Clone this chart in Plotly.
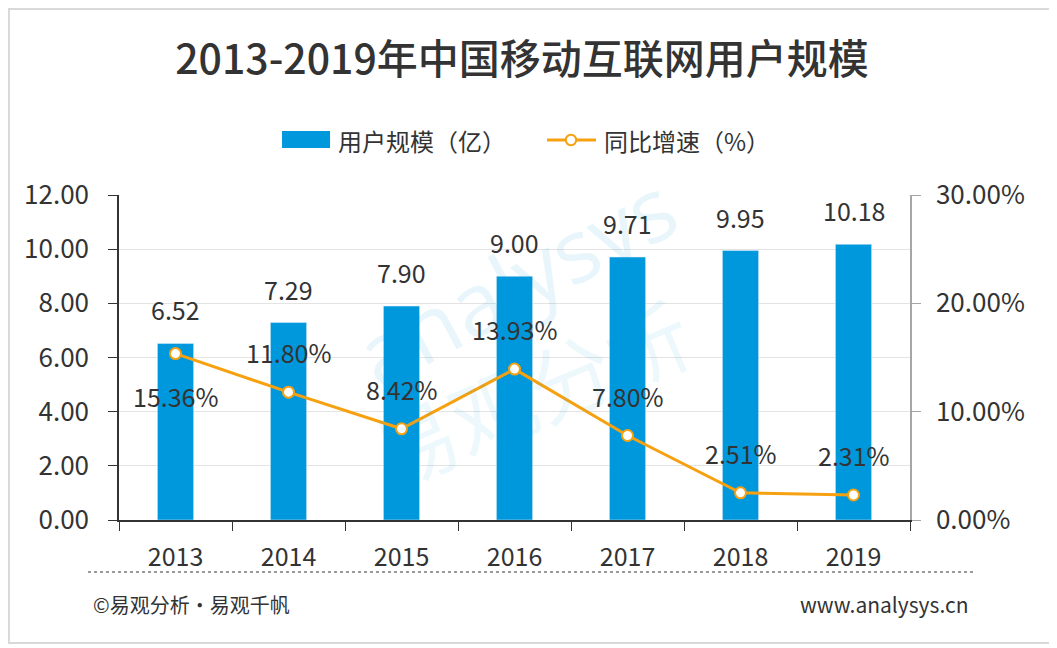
import plotly.graph_objects as go

years = ['2013', '2014', '2015', '2016', '2017', '2018', '2019']
users = [6.52, 7.29, 7.90, 9.00, 9.71, 9.95, 10.18]
growth = [15.36, 11.80, 8.42, 13.93, 7.80, 2.51, 2.31]

bar_name = '用户规模（亿）'
line_name = '同比增速（%）'

# pixel offsets for the growth labels (negative = below the point)
growth_label_shift = [-42, 40, 40, 40, 40, 40, 40]

FONT = 'Noto Sans CJK SC'
TXT = '#333333'
BLUE = '#0098DD'
ORANGE = '#F7A111'

fig = go.Figure()

fig.add_trace(go.Bar(
    x=years, y=users, name=bar_name,
    marker_color=BLUE, width=0.32,
))

fig.add_trace(go.Scatter(
    x=years, y=growth, name=line_name, yaxis='y2',
    mode='lines+markers',
    line=dict(color=ORANGE, width=3),
    marker=dict(size=11, color='white', line=dict(color=ORANGE, width=2)),
))

# data labels (category index on x, numeric years would be read as positions)
for i, v in enumerate(users):
    fig.add_annotation(x=i, y=v, xref='x', yref='y', text=f'{v:.2f}',
                       showarrow=False, yshift=34, yanchor='middle',
                       font=dict(size=25, family=FONT, color=TXT))

for i, (g, s) in enumerate(zip(growth, growth_label_shift)):
    fig.add_annotation(x=i, y=g, xref='x', yref='y2', text=f'{g:.2f}%',
                       showarrow=False, yshift=s, yanchor='middle',
                       font=dict(size=25, family=FONT, color=TXT))

# faint watermark
fig.add_annotation(x=0.50, y=0.74, xref='paper', yref='paper', text='analysys',
                   showarrow=False, textangle=-28, xanchor='center', yanchor='middle',
                   font=dict(size=88, family='Open Sans', color='rgba(0,152,221,0.09)'))
fig.add_annotation(x=0.52, y=0.40, xref='paper', yref='paper', text='易观分析',
                   showarrow=False, textangle=-23, xanchor='center', yanchor='middle',
                   font=dict(size=84, family=FONT, color='rgba(0,152,221,0.07)'))

# legend drawn by hand (wide bar swatch like the original)
fig.add_shape(type='rect', xref='paper', yref='paper',
              x0=0.2061, x1=0.2668, y0=1.1446, y1=1.1969,
              fillcolor=BLUE, line=dict(width=0))
fig.add_annotation(x=0.2743, y=1.1692, xref='paper', yref='paper', text=bar_name,
                   showarrow=False, xanchor='left', yanchor='middle',
                   font=dict(size=24, family=FONT, color=TXT))
fig.add_shape(type='line', xref='paper', yref='paper',
              x0=0.5411, x1=0.6030, y0=1.1692, y1=1.1692,
              line=dict(color=ORANGE, width=3))
fig.add_shape(type='circle', xref='paper', yref='paper',
              x0=0.5714 - 0.0066, x1=0.5714 + 0.0066, y0=1.1692 - 0.016, y1=1.1692 + 0.016,
              fillcolor='white', line=dict(color=ORANGE, width=2))
fig.add_annotation(x=0.6106, y=1.1692, xref='paper', yref='paper', text=line_name,
                   showarrow=False, xanchor='left', yanchor='middle',
                   font=dict(size=24, family=FONT, color=TXT))

# footer
fig.add_annotation(x=-0.0354, y=-0.2585, xref='paper', yref='paper',
                   text='©易观分析·易观千帆', showarrow=False, xanchor='left', yanchor='middle',
                   font=dict(size=20, family=FONT, color=TXT))
fig.add_annotation(x=1.0759, y=-0.2585, xref='paper', yref='paper',
                   text='www.analysys.cn', showarrow=False, xanchor='right', yanchor='middle',
                   font=dict(size=21, family=FONT, color=TXT))

fig.add_shape(type='line', xref='paper', yref='paper',
              x0=-0.0392, x1=1.0822, y0=-0.16, y1=-0.16,
              line=dict(color='#999999', width=2, dash='dot'))

# outer frame
fig.add_shape(type='rect', xref='paper', yref='paper',
              x0=-0.1391, x1=1.1795, y0=-0.3785, y1=1.5723,
              line=dict(color='#d9d9d9', width=2))

# page body adds 8px, so the figure is 8px smaller than the window
fig.update_layout(
    width=1049, height=640,
    paper_bgcolor='white', plot_bgcolor='white',
    margin=dict(l=111, r=147, t=187, b=128),
    title=dict(text='2013-2019年中国移动互联网用户规模', x=0.49, y=0.919,
               xanchor='center', yanchor='middle',
               font=dict(size=41, family=FONT, color=TXT, weight=500)),
    showlegend=False,
    font=dict(family=FONT, color=TXT),
)

fig.update_xaxes(
    type='category', range=[-0.5, 6.5], showline=True, linecolor='#333333', linewidth=1.5,
    ticks='outside', tickson='boundaries', ticklen=9, tickcolor='#333333',
    tickfont=dict(size=25, family=FONT, color=TXT), ticklabelstandoff=14,
    showgrid=False,
)

fig.update_layout(
    yaxis=dict(range=[0, 12], dtick=2, tickformat='.2f',
               showline=True, linecolor='#333333', linewidth=1.5,
               ticks='outside', ticklen=9, tickcolor='#333333',
               showgrid=True, gridcolor='#e3e3e3', gridwidth=1, zeroline=False,
               tickfont=dict(size=26, family=FONT, color=TXT), ticklabelstandoff=14),
    yaxis2=dict(range=[0, 30], dtick=10, tickformat='.2f', ticksuffix='%',
                overlaying='y', side='right',
                showline=True, linecolor='#a6a6a6', linewidth=1.5,
                ticks='outside', ticklen=9, tickcolor='#a6a6a6',
                showgrid=False, zeroline=False,
                tickfont=dict(size=26, family=FONT, color=TXT), ticklabelstandoff=10),
)

fig.write_html('out.html')
